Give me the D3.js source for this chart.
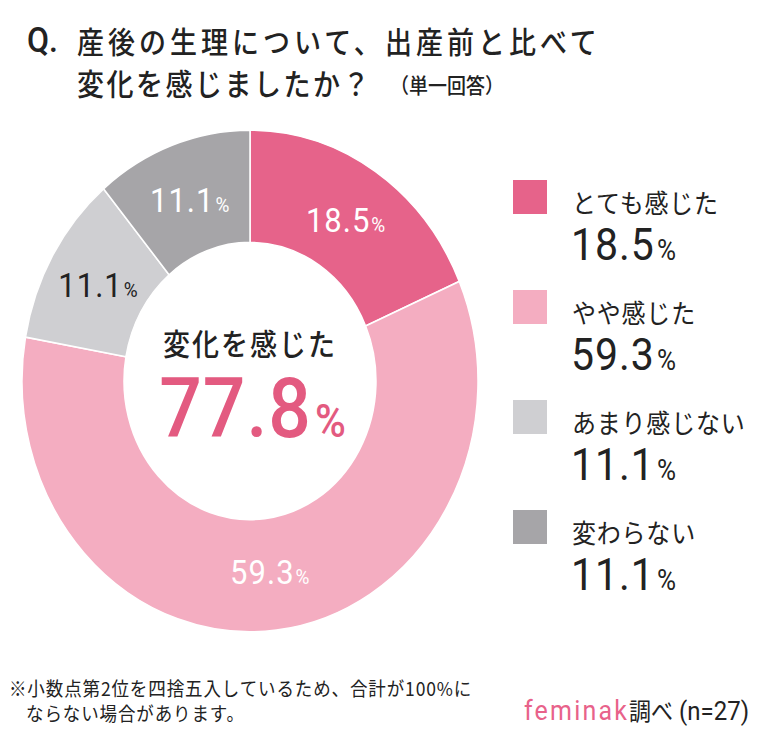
<!DOCTYPE html>
<html>
<head>
<meta charset="utf-8">
<script src="https://cdn.jsdelivr.net/npm/d3@7"></script>
<style>
  html, body { margin: 0; padding: 0; background: #fff; }
  svg { display: block; }
  .jp { font-family: "Noto Sans CJK JP", "Noto Sans", sans-serif; }
  .num { font-family: Roboto, "Noto Sans", sans-serif; }
</style>
</head>
<body>
<svg id="chart"></svg>
<script>
// data
const categories = ['とても感じた', 'やや感じた', 'あまり感じない', '変わらない'];
const values = [18.5, 59.3, 11.1, 11.1];
const colors = ['#e6638a', '#f4adc1', '#cfcfd2', '#a6a5a8'];
const labelColors = ['#ffffff', '#ffffff', '#222222', '#ffffff'];
const centerLabel = '変化を感じた';
const centerValue = 77.8;
const titleLines = ['産後の生理について、', '出産前と比べて', '変化を感じましたか？', '（単一回答）'];
const notes = ['※小数点第2位を四捨五入しているため、合計が100%に', 'ならない場合があります。'];
const source = ['feminak', '調べ', '(n=27)'];

const W = 764, H = 740;
const SY = 1.1;               // the picture is slightly stretched vertically
const sy = v => v / SY;       // screen y -> drawing y

const svg = d3.select('#chart')
  .attr('width', W)
  .attr('height', H)
  .attr('viewBox', `0 0 ${W} ${H / SY}`)
  .attr('preserveAspectRatio', 'none');

// title
const title = svg.append('g').attr('class', 'jp').attr('fill', '#222');
title.append('text')
  .attr('x', 27).attr('y', sy(52))
  .attr('font-size', 32).attr('font-weight', 500)
  .attr('font-family', 'Roboto, sans-serif')
  .text('Q.');
title.append('text')
  .attr('x', 77).attr('y', sy(39.5))
  .attr('dominant-baseline', 'central')
  .attr('font-size', 27).attr('font-weight', 500).attr('letter-spacing', 4)
  .text(titleLines[0]);
title.append('text')
  .attr('x', 385).attr('y', sy(39.5))
  .attr('dominant-baseline', 'central')
  .attr('font-size', 27).attr('font-weight', 500).attr('letter-spacing', 4)
  .text(titleLines[1]);
title.append('text')
  .attr('x', 77).attr('y', sy(81.5))
  .attr('dominant-baseline', 'central')
  .attr('font-size', 27).attr('font-weight', 500).attr('letter-spacing', 2.5)
  .text(titleLines[2]);
title.append('text')
  .attr('x', 390).attr('y', sy(84))
  .attr('dominant-baseline', 'central')
  .attr('font-size', 19).attr('font-weight', 500)
  .text(titleLines[3]);

// donut
const cx = 250, cy = sy(381);
const R = 228, r0 = 126, rLabel = 175;

const pie = d3.pie().sort(null).value(d => d.value);
const arcs = pie(categories.map((c, i) => ({ name: c, value: values[i], i })));
const arc = d3.arc().innerRadius(r0).outerRadius(R);
const labelArc = d3.arc().innerRadius(rLabel).outerRadius(rLabel);

const donut = svg.append('g').attr('transform', `translate(${cx},${cy})`);

donut.selectAll('path')
  .data(arcs)
  .enter()
    .append('path')
    .attr('d', arc)
    .attr('fill', d => colors[d.data.i])
    .attr('stroke', '#fff')
    .attr('stroke-width', 1.5);

// slice labels
const sliceLabels = donut.selectAll('text.slice')
  .data(arcs)
  .enter()
    .append('text')
    .attr('class', 'slice num')
    .attr('text-anchor', 'middle')
    .attr('transform', d => {
      const [x, y] = labelArc.centroid(d);
      return `translate(${x},${y + 11})`;
    })
    .attr('fill', d => labelColors[d.data.i])
    .attr('font-size', 31)
    .attr('letter-spacing', 1);
sliceLabels.append('tspan').text(d => d3.format('.1f')(d.data.value));
sliceLabels.append('tspan').attr('font-size', 19).attr('dx', 1).text('%');

// center text
donut.append('text')
  .attr('class', 'jp')
  .attr('text-anchor', 'middle')
  .attr('dominant-baseline', 'central')
  .attr('y', sy(341.5) - cy)
  .attr('font-size', 27).attr('font-weight', 500).attr('letter-spacing', 2)
  .attr('fill', '#222')
  .text(centerLabel);

const big = donut.append('text')
  .attr('class', 'num')
  .attr('text-anchor', 'middle')
  .attr('y', sy(437) - cy)
  .attr('x', 3)
  .attr('fill', '#e35a80')
  .attr('font-weight', 500)
  .attr('font-size', 75)
  .attr('letter-spacing', 1);
big.append('tspan').text(d3.format('.1f')(centerValue));
big.append('tspan').attr('font-size', 42).attr('dx', 3).text('%');

// legend
const legend = svg.append('g').attr('transform', `translate(513,${sy(180)})`);
const step = sy(110);

const rows = legend.selectAll('g.row')
  .data(categories.map((c, i) => ({ name: c, value: values[i], i })))
  .enter()
    .append('g')
    .attr('class', 'row')
    .attr('transform', d => `translate(0,${d.i * step})`);

rows.append('rect')
  .attr('width', 34).attr('height', sy(34))
  .attr('fill', d => colors[d.i]);

rows.append('text')
  .attr('class', 'jp')
  .attr('x', 59).attr('y', sy(21))
  .attr('dominant-baseline', 'central')
  .attr('font-size', 24).attr('letter-spacing', 0.8)
  .attr('fill', '#222')
  .text(d => d.name);

const vals = rows.append('text')
  .attr('class', 'num')
  .attr('x', 58).attr('y', sy(80))
  .attr('font-size', 41).attr('letter-spacing', 1)
  .attr('fill', '#222');
vals.append('tspan').text(d => d3.format('.1f')(d.value));
vals.append('tspan').attr('font-size', 26).attr('dx', 2).text('%');

// footnote
const foot = svg.append('g').attr('class', 'jp').attr('fill', '#222')
  .attr('font-size', 17.5).attr('letter-spacing', 0.9);
foot.append('text')
  .attr('x', 9).attr('y', sy(688))
  .attr('dominant-baseline', 'central')
  .text(notes[0]);
foot.append('text')
  .attr('x', 26).attr('y', sy(713))
  .attr('dominant-baseline', 'central')
  .text(notes[1]);

// source
const src = svg.append('text')
  .attr('x', 524).attr('y', sy(720))
  .attr('fill', '#222');
src.append('tspan')
  .attr('fill', '#e8628a').attr('font-family', 'Roboto, sans-serif')
  .attr('font-size', 25).attr('letter-spacing', 2.2)
  .text(source[0]);
src.append('tspan')
  .attr('font-family', '"Noto Sans CJK JP", sans-serif').attr('font-size', 22)
  .text(source[1]);
src.append('tspan')
  .attr('font-family', 'Roboto, sans-serif').attr('font-size', 24).attr('dx', 6)
  .text(source[2]);
</script>
</body>
</html>
